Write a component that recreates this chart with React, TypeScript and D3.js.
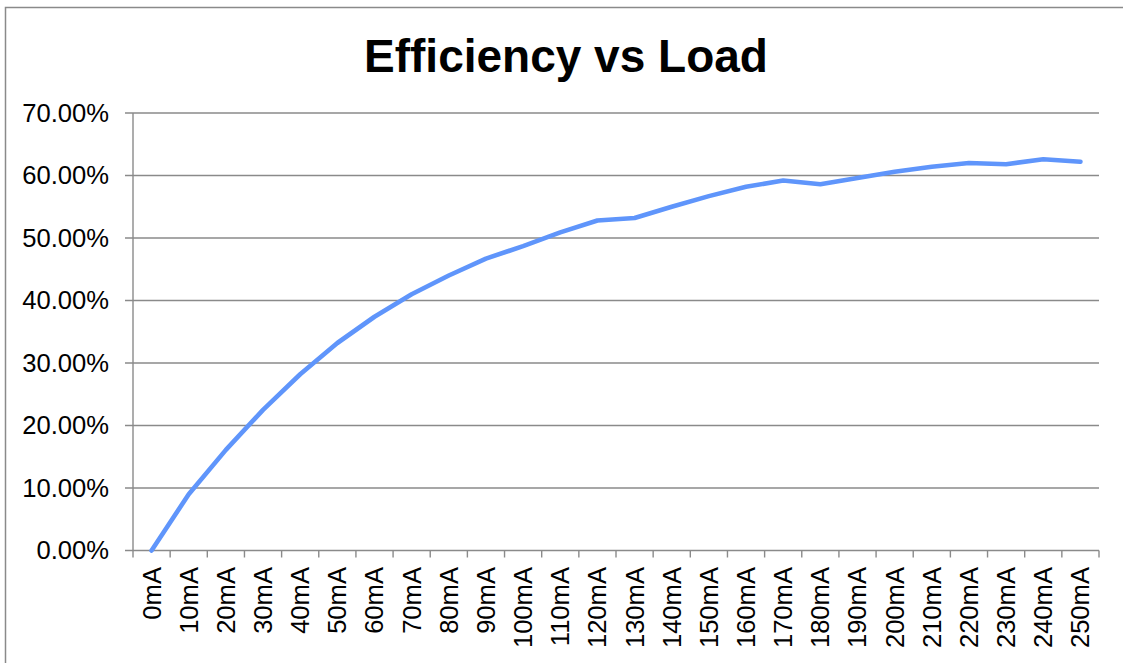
import React from "react";
import * as d3 from "d3";

const loads = [
  "0mA", "10mA", "20mA", "30mA", "40mA", "50mA", "60mA", "70mA", "80mA",
  "90mA", "100mA", "110mA", "120mA", "130mA", "140mA", "150mA", "160mA",
  "170mA", "180mA", "190mA", "200mA", "210mA", "220mA", "230mA", "240mA", "250mA",
];

// efficiency as a fraction
const efficiency = [
  0.0, 0.09, 0.161, 0.225, 0.282, 0.332, 0.374, 0.41, 0.44, 0.467, 0.487,
  0.509, 0.528, 0.532, 0.55, 0.567, 0.582, 0.592, 0.586, 0.596, 0.606,
  0.614, 0.62, 0.618, 0.626, 0.622,
];

const yTicks = [0, 0.1, 0.2, 0.3, 0.4, 0.5, 0.6, 0.7];

const title = "Efficiency vs Load";

const W = 1123;
const H = 663;
const FONT = "'Liberation Sans', Arial, sans-serif";
const GRID = "#8a8a8a";

export default function App() {
  const x = d3.scaleBand<string>().domain(loads).range([133, 1099]).padding(0);
  const y = d3.scaleLinear().domain([0, 0.7]).range([550.5, 113]);

  const fmt = (v: number) => (v * 100).toFixed(2) + "%";

  const line = d3
    .line<number>()
    .x((_, i) => (x(loads[i]) as number) + x.bandwidth() / 2)
    .y(d => y(d));

  const bounds = [...loads.map(l => x(l) as number), x.range()[1]];

  return (
    <svg
      width={W}
      height={H}
      style={{ position: "absolute", left: 0, top: 0, background: "#fff" }}
      fontFamily={FONT}
    >
      {/* chart area border */}
      <rect x={5.5} y={7.5} width={1300} height={800} fill="#fff" stroke={GRID} strokeWidth={1.5} />

      <text x={566} y={72} textAnchor="middle" fontSize={46} fontWeight="bold" fill="#000">
        {title}
      </text>

      {/* gridlines + y labels */}
      {yTicks.map((t, i) => (
        <g key={i}>
          <line x1={125} x2={x.range()[1]} y1={y(t)} y2={y(t)} stroke={GRID} strokeWidth={1.4} />
          <text x={109} y={y(t)} dy="0.35em" textAnchor="end" fontSize={25.6} fill="#000">
            {fmt(t)}
          </text>
        </g>
      ))}

      {/* y axis */}
      <line x1={133} x2={133} y1={y(0.7)} y2={y(0)} stroke={GRID} strokeWidth={1.4} />

      {/* x ticks */}
      {bounds.map((b, i) => (
        <line key={i} x1={b} x2={b} y1={y(0)} y2={y(0) + 7} stroke={GRID} strokeWidth={1.4} />
      ))}

      {/* x labels */}
      {loads.map((l, i) => (
        <text
          key={i}
          transform={`translate(${(x(l) as number) + x.bandwidth() / 2},567) rotate(-90)`}
          dy="0.35em"
          textAnchor="end"
          fontSize={25.6}
          fill="#000"
        >
          {l}
        </text>
      ))}

      <path
        d={line(efficiency) as string}
        fill="none"
        stroke="#5f95fb"
        strokeWidth={4.6}
        strokeLinejoin="round"
        strokeLinecap="round"
      />
    </svg>
  );
}
